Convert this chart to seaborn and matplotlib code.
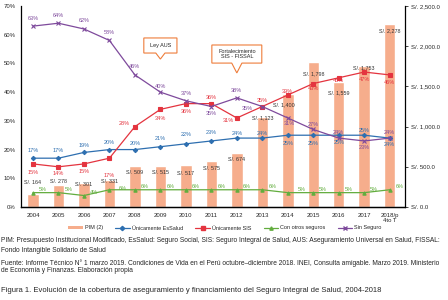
import numpy as np
import seaborn as sns
import matplotlib.pyplot as plt
from matplotlib.lines import Line2D
from matplotlib.patches import Patch, Polygon
from matplotlib.ticker import FuncFormatter

years = ["2004", "2005", "2006", "2007", "2008", "2009", "2010", "2011",
         "2012", "2013", "2014", "2015", "2016", "2017", "2018/p\n4to T"]
pim = [164, 278, 301, 331, 509, 515, 517, 575, 674, 1123, 1400, 1798, 1559, 1753, 2278]
essalud = [17, 17, 19, 20, 20, 21, 22, 23, 24, 24, 25, 25, 25, 25, 24]
sis = [15, 14, 15, 17, 28, 34, 36, 36, 31, 35, 39, 43, 45, 47, 46]
otros = [5, 5, 4, 6, 6, 6, 6, 6, 6, 6, 5, 5, 5, 5, 6]
sin_seguro = [63, 64, 62, 58, 46, 40, 37, 35, 38, 35, 31, 27, 24, 23, 24]

# label offsets in pixels (dx, dy)
pim_off = [(0, 11), (0, 3), (0, -2), (0, -1), (0, -6), (0, -7), (0, -8), (0, -8),
           (0, -7), (0, -1), (-4, -10), (0, -11), (0, -11), (0, -2), (0, -7)]
sin_off = [(0, 8), (0, 8), (0, 8), (0, 8), (0, 8), (0, 6), (0, 7), (0, -7),
           (0, 7), (-15, -2), (2, -6), (0, 5), (0, 6), (0, -7), (0, 6)]
ess_off = [(0, 8), (0, 8), (0, 7), (0, 7), (0, 6), (0, 8), (0, 9), (0, 8),
           (0, 5), (0, 5), (0, -8), (0, -8), (0, -7), (0, 5), (0, -6)]
sis_off = [(0, -9), (0, -7), (0, -8), (0, -17), (-11, 3), (0, -9), (0, -8), (0, 6),
           (-8, -3), (0, 6), (0, 4), (0, -5), (0, -3), (0, -7), (0, -8)]
otros_off = [(10, 3)] * 3 + [(13, 1)] + [(10, 3)] * 6 + [(14, 3)] + [(10, 3)] * 4

c_bar = "#f6ad8c"
c_ess = "#2e6fb0"
c_sis = "#e4343f"
c_otros = "#62ad3e"
c_sin = "#7e4a9c"
c_box = "#ee7d3b"

sns.set_style("white")
plt.rcParams["font.family"] = ["Liberation Sans", "DejaVu Sans"]

fig = plt.figure(figsize=(4.48, 3.0), dpi=100)
ax = fig.add_axes([21 / 448, 93 / 300, 384 / 448, 201 / 300])
ax2 = ax.twinx()

xs = np.arange(len(years))

sns.barplot(x=xs, y=pim, ax=ax2, color=c_bar, width=0.45, saturation=1, native_scale=True)
ax2.set_ylim(0, 2500)
ax2.set_yticks(np.arange(0, 2501, 500))
ax2.yaxis.set_major_formatter(FuncFormatter(lambda v, p: "S/. {:,.1f}".format(v)))
for i, v in enumerate(pim):
    ax2.annotate("S/. {:,}".format(v), (xs[i], v), xytext=pim_off[i], textcoords="offset pixels",
                 ha="center", va="center", fontsize=3.9, color="#333333")

ax.set_zorder(ax2.get_zorder() + 1)
ax.patch.set_visible(False)

series = [
    (essalud, c_ess, "D", 2.2, ess_off),
    (sis, c_sis, "s", 3.2, sis_off),
    (otros, c_otros, "^", 2.4, otros_off),
    (sin_seguro, c_sin, "x", 3.0, sin_off),
]
for vals, col, mk, ms, offs in series:
    sns.lineplot(x=xs, y=vals, ax=ax, color=col, marker=mk, markersize=ms,
                 markeredgecolor=col, markeredgewidth=0.8, linewidth=0.9)
    for i, v in enumerate(vals):
        ax.annotate("{}%".format(v), (xs[i], v), xytext=offs[i], textcoords="offset pixels",
                    ha="center", va="center", fontsize=4, color=col)

ax.set_xlim(-0.47, 14.6)
ax.set_ylim(0, 70)
ax.set_yticks(np.arange(0, 71, 10))
ax.set_yticklabels(["{}%".format(v) for v in range(0, 71, 10)])
ax.set_xticks(xs)
ax.set_xticklabels(years)
ax.tick_params(axis="both", length=0, labelsize=4.3, pad=4)
ax2.tick_params(axis="y", length=2.5, width=0.6, labelsize=4.3, pad=2, direction="out")
ax.set_xlabel("")
ax.set_ylabel("")
ax2.set_ylabel("")

for a in (ax, ax2):
    a.spines["top"].set_visible(False)
    for s in ("left", "right", "bottom"):
        a.spines[s].set_color("black")
        a.spines[s].set_linewidth(0.9)
ax.spines["right"].set_visible(False)
ax2.spines["left"].set_visible(False)


def callout(xc, top, bottom, tip, hw, nw, text):
    tr = ax.get_xaxis_transform()
    pts = [(xc - hw, top), (xc + hw, top), (xc + hw, bottom), (xc + nw, bottom),
           (xc, tip), (xc - nw, bottom), (xc - hw, bottom)]
    ax.add_patch(Polygon(pts, closed=True, transform=tr, facecolor="white",
                         edgecolor=c_box, linewidth=0.8, zorder=5, clip_on=False))
    ax.text(xc, (top + bottom) / 2, text, transform=tr, ha="center", va="center",
            fontsize=4, zorder=6, linespacing=1.1)


callout(5, 0.841, 0.766, 0.736, 0.65, 0.18, "Ley AUS")
callout(8, 0.806, 0.716, 0.667, 0.98, 0.2, "Fortalecimiento\nSIS - FISSAL")

handles = [
    Patch(facecolor=c_bar, edgecolor="none", label="PIM (2)"),
    Line2D([], [], color=c_ess, marker="D", markersize=2.2, lw=0.9, label="Únicamente EsSalud"),
    Line2D([], [], color=c_sis, marker="s", markersize=3.2, lw=0.9, label="Únicamente SIS"),
    Line2D([], [], color=c_otros, marker="^", markersize=2.4, lw=0.9, label="Con otros seguros"),
    Line2D([], [], color=c_sin, marker="x", markersize=3, lw=0.9, label="Sin Seguro"),
]
fig.legend(handles=handles, loc="center", bbox_to_anchor=(225 / 448, 1 - 228 / 300), ncol=5,
           frameon=False, fontsize=4, handlelength=2.6, handleheight=0.6, columnspacing=2.2,
           handletextpad=0.4)

fs = 4.75
fig.text(0.003, 1 - 241 / 300, "PIM: Presupuesto Institucional Modificado, EsSalud: Seguro Social, SIS: Seguro Integral de Salud, AUS: Aseguramiento Universal en Salud, FISSAL:",
         fontsize=fs, va="center")
fig.text(0.003, 1 - 251 / 300, "Fondo Intangible Solidario de Salud", fontsize=fs, va="center")
fig.text(0.003, 1 - 263 / 300, "Fuente: Informe Técnico N° 1 marzo 2019. Condiciones de Vida en el Perú octubre–diciembre 2018. INEI, Consulta amigable. Marzo 2019. Ministerio",
         fontsize=fs, va="center")
fig.text(0.003, 1 - 271 / 300, "de Economía y Finanzas. Elaboración propia", fontsize=fs, va="center")
fig.text(0.003, 1 - 290 / 300, "Figura 1. Evolución de la cobertura de aseguramiento y financiamiento del Seguro Integral de Salud, 2004-2018",
         fontsize=5.5, va="center")

fig.savefig("out.png", dpi=100)
